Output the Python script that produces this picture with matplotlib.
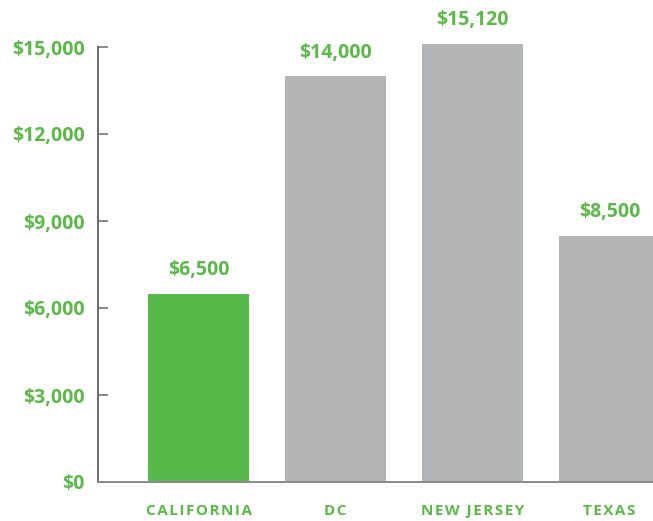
import matplotlib
matplotlib.use("Agg")
import matplotlib.pyplot as plt

categories = ["CALIFORNIA", "DC", "NEW JERSEY", "TEXAS"]
values = [6500, 14000, 15120, 8500]
value_labels = ["$6,500", "$14,000", "$15,120", "$8,500"]
y_ticks = [0, 3000, 6000, 9000, 12000, 15000]
y_tick_labels = ["$0", "$3,000", "$6,000", "$9,000", "$12,000", "$15,000"]

GREEN = "#5bb947"
BAR_GREEN = "#57b94a"
GRAY = "#b3b4b6"
bar_colors = [BAR_GREEN, GRAY, GRAY, GRAY]

W, H = 653, 521
fig = plt.figure(figsize=(W / 100, H / 100), dpi=100)
ax = fig.add_axes([98 / W, (H - 482) / H, 1 - 98 / W, (482 - 47) / H])

x = list(range(len(categories)))
bars = ax.bar(x, values, width=0.737, color=bar_colors, clip_on=False, zorder=2)

ax.set_xlim(-0.734, 3.318)
ax.set_ylim(0, 15000)

for s in ["top", "right"]:
    ax.spines[s].set_visible(False)
ax.spines["left"].set_color("#6b6b6b")
ax.spines["left"].set_linewidth(1.4)
ax.spines["bottom"].set_color("#8a8a8a")
ax.spines["bottom"].set_linewidth(1.4)
ax.spines["bottom"].set_zorder(3)

ax.set_yticks(y_ticks)
ax.set_yticklabels(y_tick_labels, fontfamily="Open Sans", fontweight="bold",
                   fontsize=14, color=GREEN)
ax.tick_params(axis="y", direction="in", length=7.5, width=1.1, color="#6b6b6b", pad=9.5)

hair = "\u200a"
spaced = [hair.join(list(c)) for c in categories]
ax.set_xticks(x)
ax.set_xticklabels(spaced, fontfamily=["Open Sans", "DejaVu Sans"], fontweight="bold",
                   fontsize=11, color=GREEN)
ax.tick_params(axis="x", length=0, pad=15.5)

for xi, v, lab in zip(x, values, value_labels):
    ax.annotate(lab, (xi, v), xytext=(0, 13), textcoords="offset points",
                ha="center", va="baseline", fontfamily="Open Sans",
                fontweight="bold", fontsize=14, color=GREEN,
                annotation_clip=False)

fig.savefig("out.png", dpi=100)
